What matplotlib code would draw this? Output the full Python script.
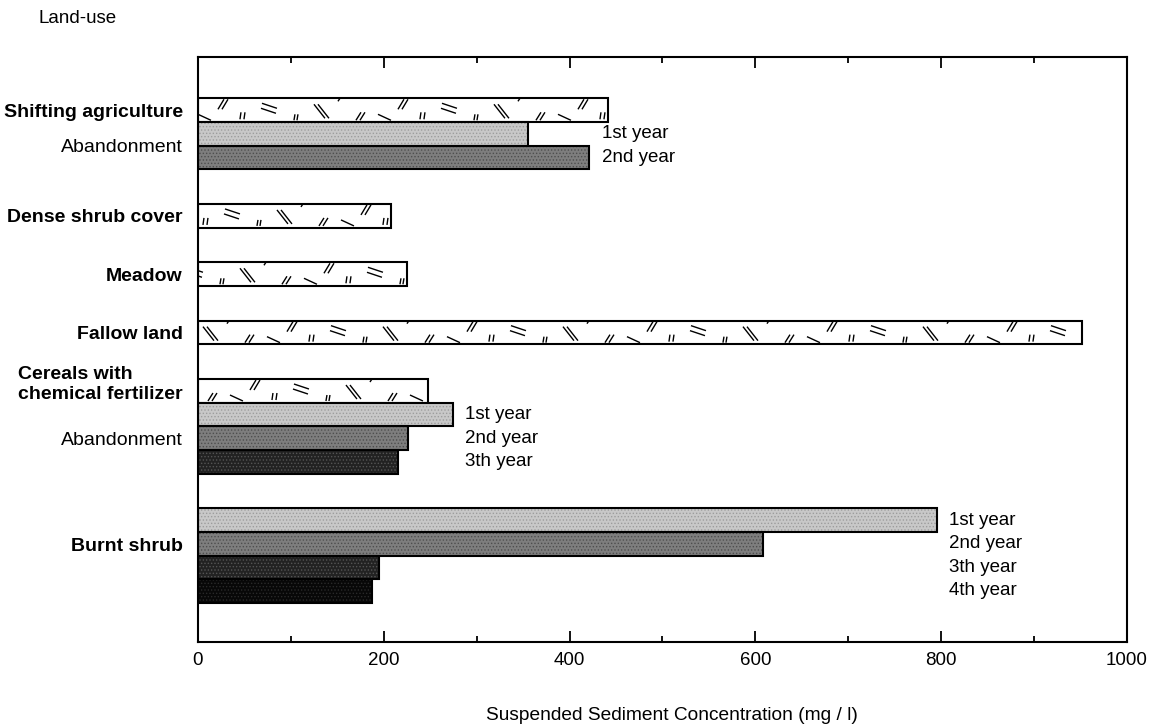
import numpy as np
import matplotlib.pyplot as plt
from matplotlib.collections import LineCollection
from matplotlib.ticker import MultipleLocator

plt.rcParams['font.family'] = ['Liberation Sans', 'DejaVu Sans']
plt.rcParams['hatch.linewidth'] = 0.6

# values (mg / l)
land_uses = ["Shifting agriculture", "Dense shrub cover", "Meadow",
             "Fallow land", "Cereals with\nchemical fertilizer", "Burnt shrub"]
land_use_ssc = [441, 208, 225, 952, 248, None]
abandon_ssc = [[355, 421], [], [], [], [274, 226, 215], [795, 608, 195, 187]]
year_labels = ["1st year", "2nd year", "3th year", "4th year"]

# looks
year_colors = ['#c8c8c8', '#7e7e7e', '#222222', '#080808']
dot_colors = ['#9c9c9c', '#4e4e4e', '#555555', '#2a2a2a']
label_shift = {"Cereals with\nchemical fertilizer": -0.4, "Burnt shrub": -0.45}
TOP_MARGIN, GROUP_GAP, BOTTOM_MARGIN = 1.76, 1.47, 1.66

# sparse "//  =  ıı" texture of the hatched bars, px relative to bar left/top
motif = [
    ((0, 16), (13, 22), None),
    ((20, 11), (26, 1), (4, 0)),
    ((42, 21), (43, 14), (4, 0)),
    ((64, 5), (79, 10), (-1, 5)),
    ((96, 22), (97, 16), (3, 0)),
    ((116, 6), (127, 20), (4, 0)),
    ((140, 3), (142, 0), None),
    ((158, 22), (163, 14), (4, 0)),
]
PERIOD = 180

fig, ax = plt.subplots(figsize=(11.53, 7.27), dpi=100)
fig.subplots_adjust(left=0.1717, right=0.9774, top=0.922, bottom=0.1169)

n_rows = sum((v is not None) + len(a) for v, a in zip(land_use_ssc, abandon_ssc))
y_total = TOP_MARGIN + n_rows + GROUP_GAP * (len(land_uses) - 1) + BOTTOM_MARGIN
ax.set_xlim(0, 1000)
ax.set_ylim(y_total, 0)

pos = ax.get_position()
ux = 1000 / (pos.width * fig.get_figwidth() * fig.dpi)
uy = y_total / (pos.height * fig.get_figheight() * fig.dpi)


def add_marks(patch, left, top, width, phase):
    segs = []
    start = -phase
    while start * ux < width:
        for p0, p1, dbl in motif:
            x0, y0 = left + (start + p0[0]) * ux, top + p0[1] * uy
            x1, y1 = left + (start + p1[0]) * ux, top + p1[1] * uy
            segs.append([(x0, y0), (x1, y1)])
            if dbl:
                dx, dy = dbl[0] * ux, dbl[1] * uy
                segs.append([(x0 + dx, y0 + dy), (x1 + dx, y1 + dy)])
        start += PERIOD
    lc = LineCollection(segs, colors='black', linewidths=1.0, zorder=3)
    ax.add_collection(lc)
    lc.set_clip_path(patch)


tick_pos, tick_lab, tick_bold = [], [], []
y = TOP_MARGIN
for i, name in enumerate(land_uses):
    group_top = y
    if land_use_ssc[i] is not None:
        bar = ax.barh(y + 0.5, land_use_ssc[i], height=1.0, color='white',
                      edgecolor='black', linewidth=1.5, zorder=2)[0]
        add_marks(bar, 0, y, land_use_ssc[i], phase=37 * i)
        tick_pos.append(y + 0.5 + label_shift.get(name, 0))
        tick_lab.append(name)
        tick_bold.append(True)
        y += 1
    vals = abandon_ssc[i]
    if vals:
        ab_top = y
        for k, v in enumerate(vals):
            ax.barh(y + 0.5, v, height=1.0, color=year_colors[k],
                    edgecolor=dot_colors[k], hatch='.....', linewidth=0, zorder=2)
            ax.barh(y + 0.5, v, height=1.0, fill=False, edgecolor='black',
                    linewidth=1.5, zorder=4)
            ax.annotate(year_labels[k], xy=(max(vals), y + 0.5), xytext=(9, 0),
                        textcoords='offset points', ha='left', va='center',
                        fontsize=13.5)
            y += 1
        if land_use_ssc[i] is not None:
            tick_pos.append((ab_top + y) / 2)
            tick_lab.append("Abandonment")
            tick_bold.append(False)
        else:
            tick_pos.append((group_top + y) / 2 + label_shift.get(name, 0))
            tick_lab.append(name)
            tick_bold.append(True)
    y += GROUP_GAP

ax.set_yticks(tick_pos, tick_lab)
for lab, bold in zip(ax.get_yticklabels(), tick_bold):
    lab.set_fontsize(14)
    lab.set_fontweight('bold' if bold else 'normal')
    lab.set_multialignment('left')
ax.tick_params(axis='y', length=0, pad=11)

ax.xaxis.set_major_locator(MultipleLocator(200))
ax.xaxis.set_minor_locator(MultipleLocator(100))
ax.tick_params(axis='x', which='both', direction='in', top=True, width=1.3,
               labelsize=13.5, pad=7)
ax.tick_params(axis='x', which='major', length=8)
ax.tick_params(axis='x', which='minor', length=4)
for sp in ax.spines.values():
    sp.set_linewidth(1.5)

ax.set_xlabel("Suspended Sediment Concentration (mg / l)", fontsize=13.8, va='center')
ax.xaxis.set_label_coords(0.51, -0.125)
fig.text(0.0338, 0.974, "Land-use", fontsize=13.5, ha='left', va='center')

fig.savefig("out.png", dpi=100)
